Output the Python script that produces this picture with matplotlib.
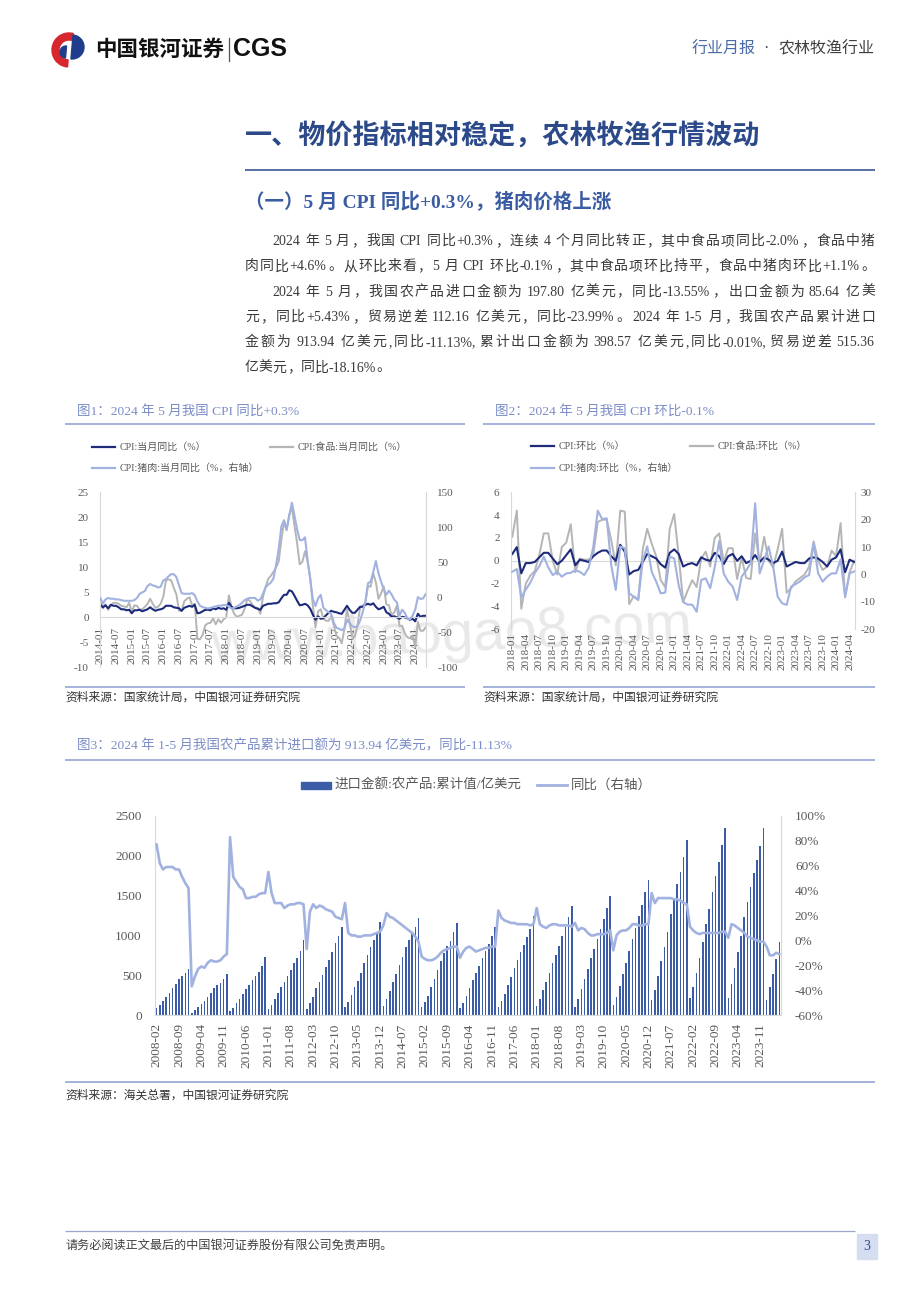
import numpy as np
import matplotlib
matplotlib.use('Agg')
import matplotlib.pyplot as plt
from matplotlib.patches import Rectangle, Wedge

plt.rcParams['font.family'] = ['Liberation Serif', 'Noto Sans CJK SC']
plt.rcParams['axes.unicode_minus'] = False

# ---------------- data: figure 1 (YoY, 2014-01 .. 2024-05) ----------------
cpi_yoy = [2.5, 2.0, 2.4, 1.8, 2.5, 2.3, 2.3, 2.0, 1.6, 1.6, 1.4, 1.5,
           0.8, 1.4, 1.4, 1.5, 1.2, 1.4, 1.6, 2.0, 1.6, 1.3, 1.5, 1.6,
           1.8, 2.3, 2.3, 2.3, 2.0, 1.9, 1.8, 1.3, 1.9, 2.1, 2.3, 2.1,
           2.5, 0.8, 0.9, 1.2, 1.5, 1.5, 1.4, 1.8, 1.6, 1.9, 1.7, 1.8,
           1.5, 2.9, 2.1, 1.8, 1.8, 1.9, 2.1, 2.3, 2.5, 2.5, 2.2, 1.9,
           1.7, 1.5, 2.3, 2.5, 2.7, 2.7, 2.8, 2.8, 3.0, 3.8, 4.5, 4.5,
           5.4, 5.2, 4.3, 3.3, 2.4, 2.5, 2.7, 2.4, 1.7, 0.5, -0.5, 0.2,
           -0.3, -0.2, 0.4, 0.9, 1.3, 1.1, 1.0, 0.8, 0.7, 1.5, 2.3, 1.5,
           0.9, 0.9, 1.5, 2.1, 2.1, 2.5, 2.7, 2.5, 2.8, 2.1, 1.6, 1.8,
           2.1, 1.0, 0.7, 0.1, 0.2, 0.0, -0.3, 0.1, 0.0, -0.2, -0.5, -0.3,
           -0.8, 0.7, 0.1, 0.3, 0.3]
food_yoy = [3.7, 1.8, 2.6, 1.5, 2.3, 2.9, 2.9, 2.7, 2.3, 2.2, 2.0, 2.9,
            1.1, 2.4, 2.3, 1.5, 1.6, 2.1, 2.7, 3.7, 2.7, 1.9, 2.1, 2.7,
            4.1, 7.3, 7.6, 7.4, 5.9, 4.6, 1.3, 1.3, 3.2, 3.7, 4.0, 2.4,
            2.7, -4.3, -4.4, -3.5, -1.6, -1.2, -1.1, -0.2, -1.4, -0.4, -1.1, -0.4,
            0.0, 4.4, 2.1, 0.7, 0.1, 0.3, 0.5, 1.7, 3.6, 3.3, 2.5, 1.9,
            1.9, 0.7, 4.1, 6.1, 7.7, 8.3, 9.1, 10.0, 11.2, 15.5, 19.1, 17.4,
            20.6, 21.9, 18.3, 14.8, 10.6, 11.1, 13.2, 11.2, 7.9, 2.2, -2.0, 1.2,
            1.6, -0.2, -0.7, -0.7, 0.3, -1.7, -3.7, -4.1, -5.2, -2.4, 1.6, -1.2,
            -3.8, -3.9, -1.5, 1.9, 2.3, 2.9, 6.3, 6.1, 8.8, 7.0, 3.7, 4.8,
            6.2, 2.6, 2.4, 0.4, 1.0, 2.3, -1.7, -1.7, -3.2, -4.0, -4.2, -3.7,
            -5.9, -0.9, -2.7, -2.7, -2.0]
pork_yoy = [-1, -9, -3, -1, -2, -2, -3, -3, -4, -5, -5, -5,
            -5, -4, -1, 5, 7, 9, 16, 19, 17, 16, 14, 15,
            24, 26, 30, 33, 33, 29, 17, 6, 5, 5, 5, 6,
            3, -6, -12, -14, -15, -16, -15, -14, -13, -12, -12, -11,
            -11, -13, -16, -15, -13, -11, -8, -4, -2, -1, -1, -1,
            -4.8, -3.0, 5.1, 14.4, 18.2, 21.1, 27.0, 46.7, 69.3, 101.3, 110.2, 97.0,
            116.0, 135.2, 116.4, 96.9, 81.7, 81.6, 85.7, 52.6, 25.5, -2.8, -12.5, -1.3,
            3.5, -14.9, -18.4, -21.4, -23.8, -36.5, -43.5, -44.9, -46.9, -44.0, -32.7, -36.7,
            -41.6, -42.5, -41.4, -33.3, -21.1, -6.0, 20.2, 22.4, 36.0, 51.8, 34.4, 22.2,
            11.8, 3.6, 9.6, 4.1, -3.2, -7.2, -26.0, -17.9, -22.0, -30.1, -31.8, -26.1,
            -17.3, 0.2, -2.4, -1.6, 4.6]
ticks1 = ['2014-01', '2014-07', '2015-01', '2015-07', '2016-01', '2016-07', '2017-01',
          '2017-07', '2018-01', '2018-07', '2019-01', '2019-07', '2020-01', '2020-07',
          '2021-01', '2021-07', '2022-01', '2022-07', '2023-01', '2023-07', '2024-01']

# ---------------- data: figure 2 (MoM, 2018-01 .. 2024-05) ----------------
cpi_mom = [0.6, 1.2, -1.1, -0.2, -0.2, -0.1, 0.3, 0.7, 0.7, 0.2, -0.3, 0.0,
           0.5, 1.0, -0.4, 0.1, 0.0, -0.1, 0.4, 0.7, 0.9, 0.9, 0.4, 0.0,
           1.4, 0.8, -1.2, -0.9, -0.8, -0.1, 0.6, 0.4, 0.2, -0.3, -0.6, 0.7,
           1.0, 0.6, -0.5, -0.3, -0.2, -0.4, 0.3, 0.1, 0.0, 0.7, 0.4, -0.3,
           0.4, 0.6, 0.0, 0.4, -0.2, 0.0, 0.5, -0.1, 0.3, 0.1, -0.2, 0.0,
           0.8, -0.5, -0.3, -0.1, -0.2, -0.2, 0.2, 0.3, 0.2, -0.1, -0.5, 0.1,
           0.3, 1.0, -1.0, 0.1, -0.1]
food_mom = [2.1, 4.4, -4.2, -2.0, -1.3, -0.9, 0.5, 2.4, 2.4, 0.0, -1.2, 1.2,
            1.6, 3.2, -1.0, 0.2, 0.1, 0.1, 0.5, 3.4, 3.6, 3.6, 1.8, -0.4,
            4.4, 4.3, -3.8, -3.1, -3.4, 1.0, 2.8, 1.5, 0.4, -1.7, -2.3, 2.8,
            4.1, 0.4, -3.6, -2.6, -1.7, -2.3, 0.2, 0.8, -0.5, 2.0, 2.4, -0.1,
            1.1, 1.1, -1.6, 0.3, -1.5, -1.6, 2.4, -0.2, 2.1, 0.0, -0.6, 1.0,
            2.8, -2.8, -2.4, -1.8, -1.5, -1.2, -0.5, 1.7, 0.0, -0.8, -0.5, 0.9,
            0.4, 3.3, -3.2, -1.0, 0.0]
pork_mom = [1.0, 2.0, -8.3, -5.5, -3.0, 0.5, 3.0, 6.5, 2.6, -0.2, 1.0, -0.8,
            0.4, 0.6, 1.6, 1.0, -0.2, 2.5, 10.0, 23.3, 20.2, 20.5, 3.4, -5.6,
            10.2, 9.6, -6.9, -8.1, -9.3, 5.1, 10.3, 1.0, -2.6, -6.9, -6.6, 6.5,
            5.9, -4.0, -10.1, -11.0, -11.0, -13.6, -2.0, -1.4, -5.0, 2.6, 12.2, 0.4,
            -2.6, -4.4, -9.3, -0.8, 1.5, 4.1, 26.0, 0.4, 5.3, 10.2, 2.9, -8.1,
            -10.5, -11.1, -4.4, -3.5, -2.5, -1.0, -0.2, 11.4, 0.4, -2.6, -0.8, 0.4,
            0.4, 5.5, -8.1, 0.4, 1.1]
ticks2 = ['2018-01', '2018-04', '2018-07', '2018-10', '2019-01', '2019-04', '2019-07',
          '2019-10', '2020-01', '2020-04', '2020-07', '2020-10', '2021-01', '2021-04',
          '2021-07', '2021-10', '2022-01', '2022-04', '2022-07', '2022-10', '2023-01',
          '2023-04', '2023-07', '2023-10', '2024-01', '2024-04']

# ---------------- data: figure 3 (2008-02 .. 2024-05) ----------------
imports = [84, 126, 180, 230, 280, 335, 390, 448, 490, 532, 580,
           21, 63, 96, 138, 180, 230, 280, 335, 377, 406, 448, 515,
           50, 85, 150, 200, 265, 325, 380, 435, 495, 545, 610, 726,
           70, 130, 200, 275, 350, 420, 495, 570, 650, 720, 800, 940,
           71, 147, 230, 335, 419, 502, 599, 691, 796, 900, 992, 1110,
           96, 167, 251, 356, 431, 523, 649, 754, 850, 942, 1026, 1173,
           117, 197, 300, 410, 510, 630, 730, 850, 940, 1020, 1100, 1220,
           105, 167, 243, 356, 452, 565, 678, 775, 867, 934, 1043, 1152,
           90, 150, 240, 340, 440, 530, 620, 710, 800, 890, 990, 1110,
           100, 170, 260, 380, 480, 590, 690, 790, 880, 980, 1080, 1250,
           110, 200, 320, 420, 530, 650, 760, 870, 990, 1110, 1230, 1370,
           100, 200, 330, 450, 580, 710, 830, 960, 1080, 1200, 1340, 1500,
           130, 220, 370, 510, 650, 800, 950, 1090, 1240, 1380, 1540, 1700,
           188, 314, 490, 678, 858, 1046, 1264, 1453, 1641, 1800, 1988, 2198,
           210, 356, 532, 720, 921, 1143, 1327, 1549, 1750, 1926, 2135, 2353,
           210, 385, 586, 796, 992, 1227, 1424, 1612, 1780, 1947, 2123, 2343,
           190, 347, 511, 708, 914]
imports_yoy = [77, 62, 57, 59, 59, 59, 57, 57, 51, 46, 42,
               -37, -29, -23, -21, -22, -18, -16, -17, -17, -16, -13, -11,
               83, 51, 47, 43, 41, 34, 34, 35, 35, 37, 38, 38,
               55, 38, 30, 30, 30, 26, 28, 29, 29, 30, 30, 29,
               -7, 23, 29, 26, 28, 27, 25, 24, 23, 19, 18, 17,
               30, 6, 4, 4, 3, 3, 4, 4, 4, 5, 6, 7,
               12, 22, 19, 18, 16, 14, 12, 10, 8, 6, 3, -1,
               -13, -15, -16, -16, -15, -13, -10, -8, -7, -6, -5, -5,
               -14, -9, -6, -5, -7, -9, -8, -7, -6, -6, -5, -5,
               24, 18, 16, 15, 14, 14, 13, 13, 13, 13, 12, 13,
               26, 13, 11, 10, 12, 13, 13, 12, 12, 12, 12, 11,
               14, 8, 10, 9, 6, 4, 4, 5, 5, 5, 6, 8,
               -8, 4, 7, 8, 8, 10, 13, 13, 12, 12, 13, 13,
               38, 30, 34, 34, 34, 34, 34, 33, 33, 32, 30, 29,
               11, 8, 6, 5, 6, 6, 6, 6, 6, 6, 7, 7,
               2, 13, 12, 10, 8, 6, 3, 2, 1, 0, -1, -1,
               -5, -12, -12, -10, -11]
ticks3 = ['2008-02', '2008-09', '2009-04', '2009-11', '2010-06', '2011-01', '2011-08',
          '2012-03', '2012-10', '2013-05', '2013-12', '2014-07', '2015-02', '2015-09',
          '2016-04', '2016-11', '2017-06', '2018-01', '2018-08', '2019-03', '2019-10',
          '2020-05', '2020-12', '2021-07', '2022-02', '2022-09', '2023-04', '2023-11']
pct_labels = ['-60%', '-40%', '-20%', '0%', '20%', '40%', '60%', '80%', '100%']

# ---------------- page text ----------------
body_lines = [
    (272, '2024 年 5 月，我国 CPI 同比+0.3%，连续 4 个月同比转正，其中食品项同比-2.0%，食品中猪', True),
    (245, '肉同比+4.6%。从环比来看，5 月 CPI 环比-0.1%，其中食品项环比持平，食品中猪肉环比+1.1%。', True),
    (272, '2024 年 5 月，我国农产品进口金额为 197.80 亿美元，同比-13.55%，出口金额为 85.64 亿美', True),
    (245, '元，同比+5.43%，贸易逆差 112.16 亿美元，同比-23.99%。2024 年 1-5 月，我国农产品累计进口', True),
    (245, '金额为 913.94 亿美元,同比-11.13%,累计出口金额为 398.57 亿美元,同比-0.01%,贸易逆差 515.36', True),
    (245, '亿美元，同比-18.16%。', False),
]

W, H = 920, 1302
NAVY = '#1d2b7a'
GREY = '#b5b5b5'
LBLUE = '#a2b2e0'
BAR = '#3d5ca8'
TICK = '#595959'
AXL = '#d9d9d9'
CAPTION = '#7b8cc6'
RULE = '#8c9dcf'
DARKBLUE = '#2c4a8a'
SANS = ['Noto Sans CJK SC', 'DejaVu Sans']

fig = plt.figure(figsize=(W / 100, H / 100), dpi=100)
page = fig.add_axes([0, 0, 1, 1], zorder=-5)
page.set_xlim(0, W)
page.set_ylim(H, 0)
page.axis('off')


def rect(x0, x1, ytop, ybot):
    return [x0 / W, 1 - ybot / H, (x1 - x0) / W, (ybot - ytop) / H]


def hline(x0, x1, y, color=RULE, lw=1.1):
    page.plot([x0, x1], [y, y], color=color, lw=lw, solid_capstyle='butt')


# header
page.add_patch(Wedge((69, 50), 17, 95, 285, width=7, color='#d6262e'))
page.add_patch(Wedge((72, 47), 12, -85, 95, color='#1f3d8c'))
page.add_patch(Wedge((66, 52), 6, 95, 275, color='#1f3d8c'))
page.text(95, 49, '中国银河证券', fontsize=15.5, weight='bold', color='#111111',
          va='center', family=SANS)
page.plot([229, 229], [38, 61], color='#555555', lw=0.9)
page.text(233, 49, 'CGS', fontsize=18, weight='bold', color='#111111',
          va='center', family='Liberation Sans')
page.text(692, 49, '行业月报', fontsize=11.5, color='#4a6aa8', va='center', family=SANS)
page.text(766, 49, '·', fontsize=11.5, color='#404040', va='center', ha='center')
page.text(875, 49, '农林牧渔行业', fontsize=11.5, color='#404040', va='center',
          ha='right', family=SANS)

# headings
page.text(245, 136, '一、物价指标相对稳定，农林牧渔行情波动', fontsize=19.5,
          weight='bold', color=DARKBLUE, va='center', family=SANS)
hline(245, 875, 170, color='#3b5896', lw=1.2)
page.text(245, 201, '（一）5 月 CPI 同比+0.3%，猪肉价格上涨', fontsize=14,
          weight='bold', color='#3b5ca2', va='center')

# body text, justified token by token
BODY_PT = 10
BODY_PX = BODY_PT * 100 / 72
renderer = fig.canvas.get_renderer()


def split_tokens(s):
    toks, cur, gap, cur_gap = [], '', False, False
    for c in s:
        if c == ' ' or ord(c) > 0x2000:
            if cur:
                toks.append((cur, cur_gap))
                cur = ''
            if c == ' ':
                gap = True
            else:
                toks.append((c, gap))
                gap = False
        else:
            if not cur:
                cur_gap = gap
                gap = False
            cur += c
    if cur:
        toks.append((cur, cur_gap))
    return toks


def body_line(x0, y, s, justify):
    toks = split_tokens(s)
    arts, widths = [], []
    for t, _ in toks:
        a = page.text(0, y, t, fontsize=BODY_PT, color='#3a3a3a', va='baseline')
        arts.append(a)
        if len(t) == 1 and ord(t) > 0x2000:
            widths.append(BODY_PX)
        else:
            widths.append(a.get_window_extent(renderer).width + 0.8)
    sp = 0.25 * BODY_PX
    base = sum(widths) + sp * sum(g for _, g in toks)
    extra = (875 - x0 - base) / (len(toks) - 1) if justify else 0
    x = x0
    for a, w, (t, g) in zip(arts, widths, toks):
        if g:
            x += sp
        a.set_x(x)
        x += w + extra


for i, (x0, s, just) in enumerate(body_lines):
    body_line(x0, 240 + 25.3 * i + 5, s, just)

# captions and rules
page.text(77, 411, '图1：2024 年 5 月我国 CPI 同比+0.3%', fontsize=9.7, color=CAPTION, va='center')
page.text(495, 411, '图2：2024 年 5 月我国 CPI 环比-0.1%', fontsize=9.7, color=CAPTION, va='center')
hline(65, 465, 424)
hline(483, 875, 424)
hline(65, 465, 687)
hline(483, 875, 687)
page.text(65, 698, '资料来源：国家统计局，中国银河证券研究院', fontsize=8.5,
          color='#333333', va='center', style='italic')
page.text(483, 698, '资料来源：国家统计局，中国银河证券研究院', fontsize=8.5,
          color='#333333', va='center', style='italic')
page.text(77, 746, '图3：2024 年 1-5 月我国农产品累计进口额为 913.94 亿美元，同比-11.13%',
          fontsize=9.7, color=CAPTION, va='center')
hline(65, 875, 759.5)
hline(65, 875, 1082)
page.text(65, 1096, '资料来源：海关总署，中国银河证券研究院', fontsize=8.5,
          color='#333333', va='center', style='italic')

# footer
hline(65, 855, 1231, color='#9aa6cc', lw=0.9)
page.text(65, 1246, '请务必阅读正文最后的中国银河证券股份有限公司免责声明。', fontsize=8.7,
          color='#404040', va='center')
page.add_patch(Rectangle((857, 1234), 20, 25, color='#d5ddf1'))
page.text(867, 1247, '3', fontsize=10, color=DARKBLUE, ha='center', va='center')

# watermark
page.text(212, 662, 'www.baogao8.com', fontsize=41, family='Liberation Sans',
          color='#c8c8c8', alpha=0.4, va='baseline', rotation=2.5,
          rotation_mode='anchor')

# legends (figure 1, 2)
LEG = 7.2
for x0, y, col, label in [(92, 447, NAVY, 'CPI:当月同比（%）'),
                          (270, 447, GREY, 'CPI:食品:当月同比（%）'),
                          (92, 468, LBLUE, 'CPI:猪肉:当月同比（%，右轴）'),
                          (531, 446, NAVY, 'CPI:环比（%）'),
                          (690, 446, GREY, 'CPI:食品:环比（%）'),
                          (531, 468, LBLUE, 'CPI:猪肉:环比（%，右轴）')]:
    page.plot([x0, x0 + 23], [y, y], color=col, lw=1.6)
    page.text(x0 + 28, y, label, fontsize=LEG, color=TICK, va='center')


def style_pair(ax, axr, ylpad, yrpad, size):
    for s in ['top', 'right']:
        ax.spines[s].set_visible(False)
    for s in ['top', 'bottom', 'left']:
        axr.spines[s].set_visible(False)
    ax.spines['left'].set_color(AXL)
    axr.spines['right'].set_color(AXL)
    ax.tick_params(length=0, labelsize=size, labelcolor=TICK)
    ax.tick_params(axis='y', pad=ylpad)
    ax.tick_params(axis='x', labelrotation=90)
    axr.tick_params(length=0, labelsize=size, labelcolor=TICK, pad=yrpad)


# ---------------- figure 1 ----------------
ax1 = fig.add_axes(rect(100, 426, 492.3, 667.3))
ax1.set_facecolor('none')
ax1.spines['bottom'].set_position(('data', 0))
ax1.spines['bottom'].set_color(AXL)
x1 = np.arange(len(cpi_yoy))
ax1.plot(x1, food_yoy, color=GREY, lw=1.4)
ax1.plot(x1, cpi_yoy, color=NAVY, lw=1.5)
ax1.set_xlim(-0.1, len(cpi_yoy) - 0.9)
ax1.set_ylim(-10, 25)
ax1.set_yticks(range(-10, 26, 5))
ax1.set_xticks(range(0, len(cpi_yoy), 6))
ax1.set_xticklabels(ticks1)
ax1r = ax1.twinx()
ax1r.plot(x1, pork_yoy, color=LBLUE, lw=1.5)
ax1r.set_ylim(-100, 150)
ax1r.set_yticks(range(-100, 151, 50))
style_pair(ax1, ax1r, 8, 8, 8)
ax1.tick_params(axis='x', pad=7)

# ---------------- figure 2 ----------------
ax2 = fig.add_axes(rect(511.4, 855, 492.3, 629.3))
ax2.set_facecolor('none')
x2 = np.arange(len(cpi_mom))
ax2.axhline(0, color=AXL, lw=0.8)
ax2.plot(x2, food_mom, color=GREY, lw=1.4)
ax2.plot(x2, cpi_mom, color=NAVY, lw=1.5)
ax2.set_xlim(-0.2, len(cpi_mom) - 0.8)
ax2.set_ylim(-6, 6)
ax2.set_yticks(range(-6, 7, 2))
ax2.set_xticks(range(0, len(cpi_mom), 3))
ax2.set_xticklabels(ticks2)
ax2.spines['bottom'].set_visible(False)
ax2r = ax2.twinx()
ax2r.plot(x2, pork_mom, color=LBLUE, lw=1.5)
ax2r.set_ylim(-20, 30)
ax2r.set_yticks(range(-20, 31, 10))
style_pair(ax2, ax2r, 8.5, 4.3, 8)
ax2.tick_params(axis='x', pad=3)

# ---------------- figure 3 ----------------
ax3 = fig.add_axes(rect(155, 781, 816, 1015))
ax3.set_facecolor('none')
x3 = np.arange(len(imports))
ax3.bar(x3, imports, width=0.5, color=BAR)
ax3.set_xlim(-0.5, len(imports) - 0.5)
ax3.set_ylim(0, 2500)
ax3.set_yticks(range(0, 2501, 500))
ax3.set_xticks(range(0, len(imports), 7))
ax3.set_xticklabels(ticks3)
ax3.spines['bottom'].set_color(AXL)
ax3r = ax3.twinx()
ax3r.plot(x3, imports_yoy, color=LBLUE, lw=1.9)
ax3r.set_ylim(-60, 100)
ax3r.set_yticks(range(-60, 101, 20))
ax3r.set_yticklabels(pct_labels)
style_pair(ax3, ax3r, 9.5, 10, 9.5)
ax3.tick_params(axis='x', pad=6)

page.add_patch(Rectangle((300.7, 781.5), 30, 7.5, color=BAR))
page.text(335, 785, '进口金额:农产品:累计值/亿美元', fontsize=9.7, color=TICK, va='center')
page.plot([536.7, 567.3], [785, 785], color=LBLUE, lw=2)
page.text(571, 785, '同比（右轴）', fontsize=9.7, color=TICK, va='center')

fig.savefig('out.png', dpi=100)
